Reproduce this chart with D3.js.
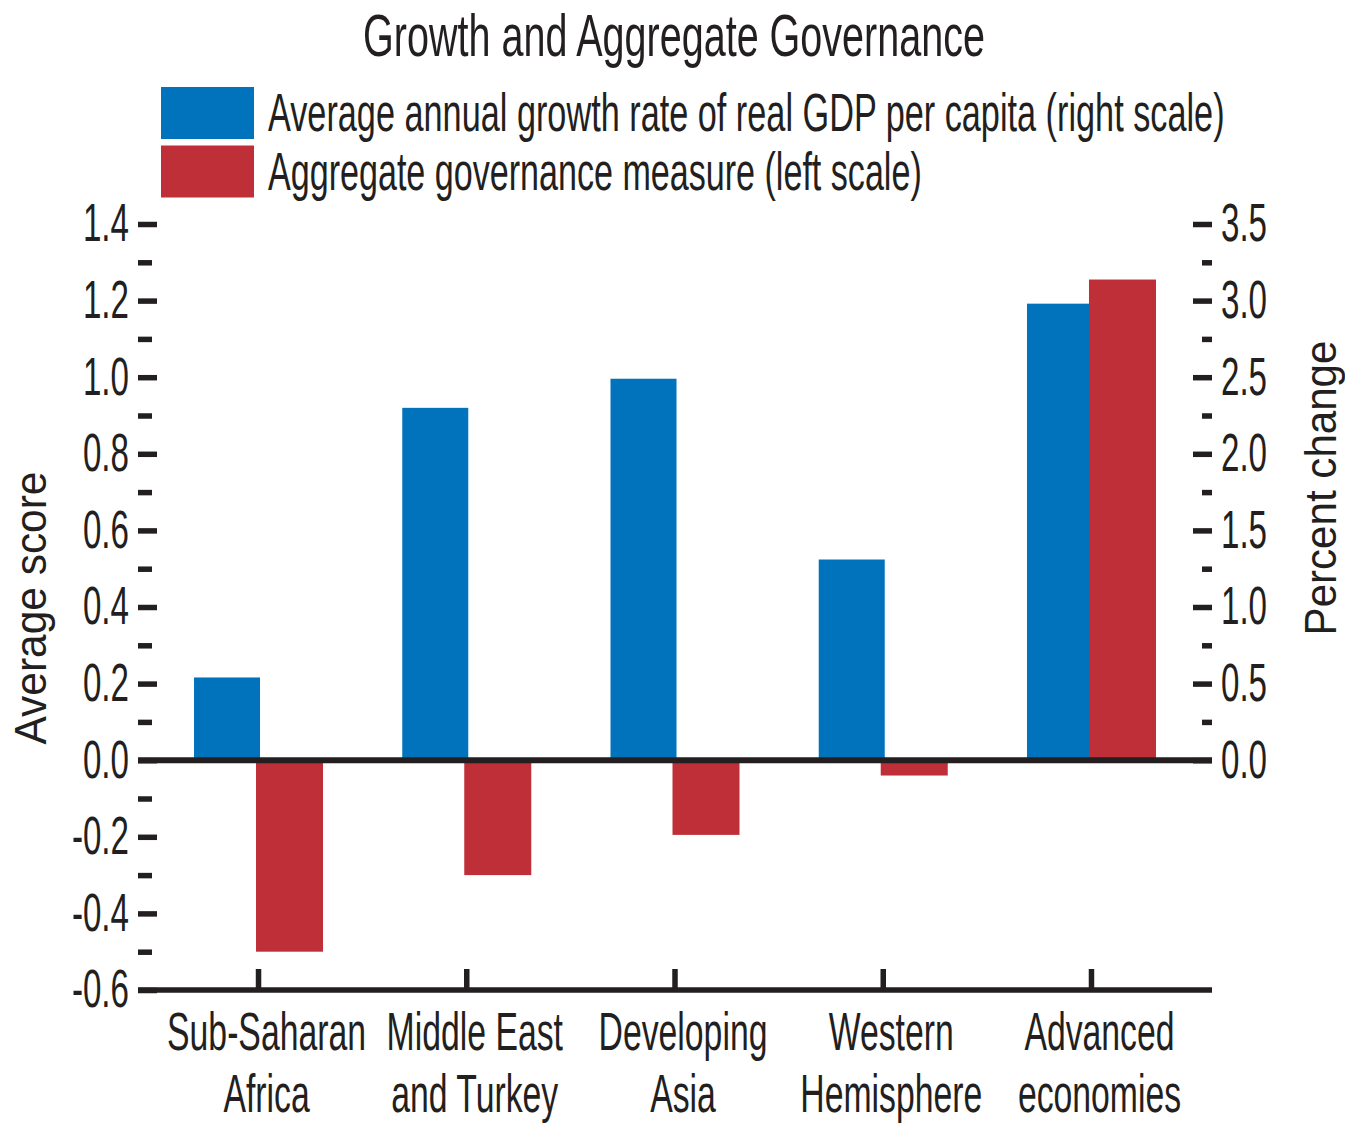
<!DOCTYPE html>
<html><head><meta charset="utf-8">
<script src="https://cdn.jsdelivr.net/npm/d3@7"></script>
<style>
body{margin:0;background:#fff}
text{font-family:"Liberation Sans",Arial,sans-serif;fill:#231f20}
</style>
</head><body>
<svg id="c" width="1345" height="1123"></svg>
<script>
// ---- data ----
const title = "Growth and Aggregate Governance";
const categories = [["Sub-Saharan","Africa"],["Middle East","and Turkey"],["Developing","Asia"],["Western","Hemisphere"],["Advanced","economies"]];
const seriesNames = ["Average annual growth rate of real GDP per capita (right scale)","Aggregate governance measure (left scale)"];
const growth = [0.54, 2.30, 2.49, 1.31, 2.98];          // right scale, percent
const governance = [-0.50, -0.30, -0.195, -0.04, 1.255]; // left scale, average score
const leftTicks = [-0.6,-0.4,-0.2,0.0,0.2,0.4,0.6,0.8,1.0,1.2,1.4];
const leftMinor = [-0.5,-0.3,-0.1,0.1,0.3,0.5,0.7,0.9,1.1,1.3];
const rightTicks = [0.0,0.5,1.0,1.5,2.0,2.5,3.0,3.5];
const rightMinor = [0.25,0.75,1.25,1.75,2.25,2.75,3.25];
const axisTitles = ["Average score","Percent change"];
const colors = ["#0073bc","#be2f38"];

// ---- layout ----
const svg = d3.select("#c");
const K = 0.615, INK = "#231f20";
function condense(sel, k){
  sel.each(function(){
    const t = d3.select(this);
    const x = +t.attr("x")||0, y = +t.attr("y")||0;
    const kk = k || K;
    t.attr("x",0).attr("y",0).attr("transform",`translate(${x},${y}) scale(${kk},1)`);
  });
}
// scale a text horizontally so that it spans the given width
function fit(t, w, x, y, rot){
  const nat = t.node().getComputedTextLength();
  const k = w / nat;
  t.attr("x",0).attr("y",0)
   .attr("transform",`translate(${x},${y})${rot?` rotate(${rot})`:""} scale(${k},1)`);
}
const yL = d3.scaleLinear().domain([-0.6,1.4]).range([990,224]);
const yR = d3.scaleLinear().domain([-1.5,3.5]).range([990,224]);
const x = d3.scaleBand().domain(d3.range(categories.length)).range([154.4,1195.6]);
const cx = i => x(i) + x.bandwidth()/2;

// title
fit(svg.append("text").attr("text-anchor","middle").attr("font-size",60).text(title), 622, 674, 56);

// legend
const legW = [957,654];
seriesNames.forEach((s,i)=>{
  svg.append("rect").attr("x",161).attr("y",87+i*58.5).attr("width",93).attr("height",52).attr("fill",colors[i]);
  fit(svg.append("text").attr("font-size",53).text(s), legW[i], 268, 131+i*59);
});

// bars
const g = svg.append("g");
g.selectAll("rect.b").data(growth).join("rect").attr("class","b")
  .attr("x",(d,i)=>cx(i)-64.5).attr("width",66)
  .attr("y",d=>Math.min(yR(d),yR(0))).attr("height",d=>Math.abs(yR(d)-yR(0)))
  .attr("fill",colors[0]);
g.selectAll("rect.r").data(governance).join("rect").attr("class","r")
  .attr("x",(d,i)=>cx(i)-2.5).attr("width",67)
  .attr("y",d=>Math.min(yL(d),yL(0))).attr("height",d=>Math.abs(yL(d)-yL(0)))
  .attr("fill",colors[1]);

// zero line and bottom axis line
svg.append("line").attr("x1",138).attr("x2",1212).attr("y1",yL(0)).attr("y2",yL(0)).attr("stroke",INK).attr("stroke-width",6);
svg.append("line").attr("x1",138).attr("x2",1212).attr("y1",yL(-0.6)).attr("y2",yL(-0.6)).attr("stroke",INK).attr("stroke-width",5.5);

function styleAxis(a){
  a.select(".domain").remove();
  a.selectAll(".tick line").attr("stroke",INK).attr("stroke-width",5.5);
  a.selectAll(".tick text").attr("font-size",53).attr("font-family",null).attr("fill",INK);
}
// left axis
const la = svg.append("g").attr("transform","translate(157,0)")
  .call(d3.axisLeft(yL).tickValues(leftTicks).tickSize(19).tickPadding(9).tickFormat(d=>d.toFixed(1)));
styleAxis(la); condense(la.selectAll(".tick text"), 0.625);
const lm = svg.append("g").attr("transform","translate(152,0)")
  .call(d3.axisLeft(yL).tickValues(leftMinor).tickSize(14).tickFormat(""));
styleAxis(lm);
// right axis
const ra = svg.append("g").attr("transform","translate(1193,0)")
  .call(d3.axisRight(yR).tickValues(rightTicks).tickSize(19).tickPadding(9).tickFormat(d=>d.toFixed(1)));
styleAxis(ra); condense(ra.selectAll(".tick text"), 0.625);
const rm = svg.append("g").attr("transform","translate(1202,0)")
  .call(d3.axisRight(yR).tickValues(rightMinor).tickSize(10).tickFormat(""));
styleAxis(rm);
// bottom axis ticks
const ba = svg.append("g").attr("transform",`translate(0,${yL(-0.6)})`)
  .call(d3.axisBottom(x).tickSize(-21).tickFormat(""));
styleAxis(ba);

// category labels
categories.forEach((lines,i)=>{
  lines.forEach((s,j)=>{
    const t = svg.append("text").attr("x",cx(i)+8).attr("y",1050+j*62)
      .attr("text-anchor","middle").attr("font-size",54).text(s);
    condense(t, 0.625);
  });
});

// axis titles
fit(svg.append("text").attr("text-anchor","middle").attr("font-size",44).text(axisTitles[0]), 273, 46, 608, -90);
fit(svg.append("text").attr("text-anchor","middle").attr("font-size",44).text(axisTitles[1]), 295, 1336, 488, -90);
</script>
</body></html>
